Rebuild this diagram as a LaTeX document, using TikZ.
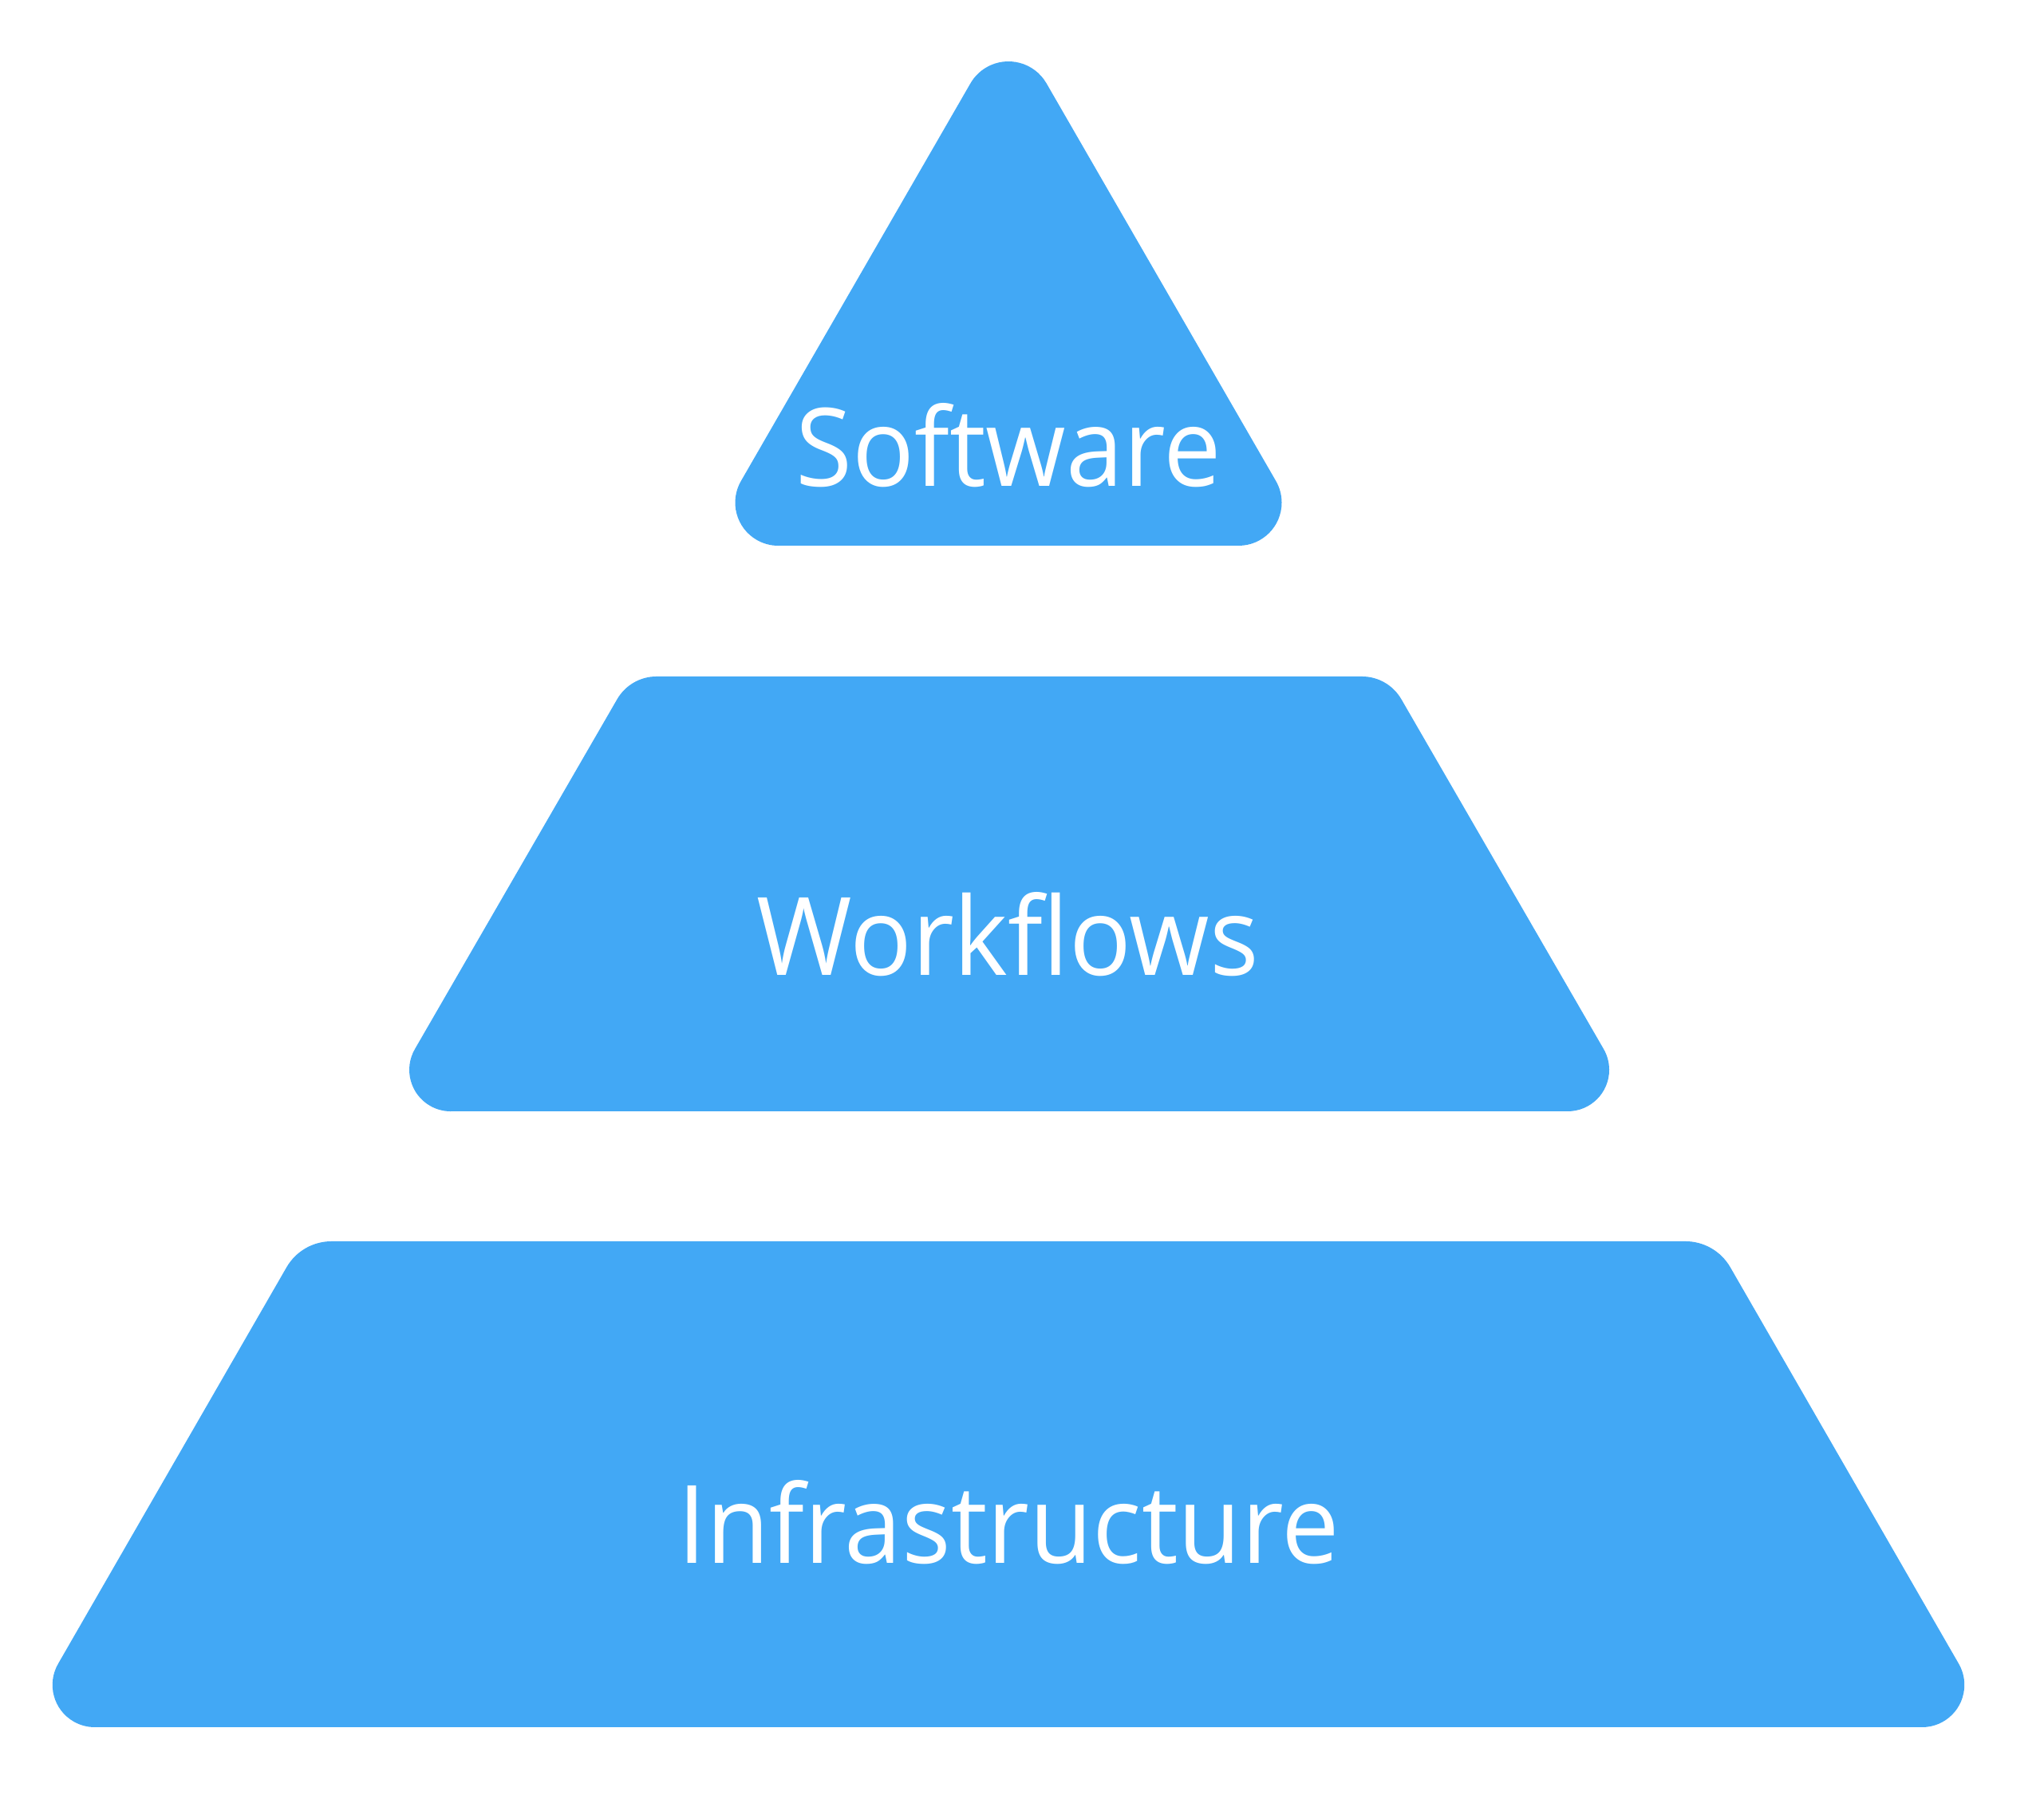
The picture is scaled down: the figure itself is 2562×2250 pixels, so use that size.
\documentclass[tikz,border=0pt]{standalone}
\usepackage{fontspec}
\newfontfamily\labfont[FakeStretch=0.95]{Open Sans}
\usetikzlibrary{calc}
\definecolor{tierblue}{RGB}{66,168,245}
\tikzset{
  tier/.style={fill=tierblue},
  tierlabel/.style={text=white, anchor=base, inner sep=0pt, font=\labfont\fontsize{136}{160}\selectfont}
}
\begin{document}
\begin{tikzpicture}[x=1pt,y=1pt]
\useasboundingbox (0,0) rectangle (2562,2250);
% triangle
\coordinate (tBL) at (882,1566);
\coordinate (tBR) at (1646,1566);
\coordinate (tA) at (1264,2228);
\def\trb{54pt}\def\ttb{93.5pt}
\def\tra{55pt}\def\tta{95.3pt}
\fill[tier] ($(tBL)+(0:\ttb)$) -- ($(tBR)+(180:\ttb)$)
  arc[start angle=-90,end angle=30,radius=\trb]
  -- ($(tA)+(300:\tta)$)
  arc[start angle=30,end angle=150,radius=\tra]
  -- ($(tBL)+(60:\ttb)$)
  arc[start angle=150,end angle=270,radius=\trb] -- cycle;
% middle trapezoid
\coordinate (mBL) at (475,857);
\coordinate (mBR) at (2055,857);
\coordinate (mTR) at (1740,1402);
\coordinate (mTL) at (790,1402);
\def\mrb{52pt}\def\mtb{90pt}
\def\mrt{57pt}\def\mtt{32.9pt}
\fill[tier] ($(mBL)+(0:\mtb)$) -- ($(mBR)+(180:\mtb)$)
  arc[start angle=-90,end angle=30,radius=\mrb]
  -- ($(mTR)+(300:\mtt)$)
  arc[start angle=30,end angle=90,radius=\mrt]
  -- ($(mTL)+(0:\mtt)$)
  arc[start angle=90,end angle=150,radius=\mrt]
  -- ($(mBL)+(60:\mtb)$)
  arc[start angle=150,end angle=270,radius=\mrb] -- cycle;
% bottom trapezoid
\coordinate (bBL) at (27,85);
\coordinate (bBR) at (2501,85);
\coordinate (bTR) at (2150,694);
\coordinate (bTL) at (378,694);
\def\brb{53pt}\def\btb{91.8pt}
\def\brt{65pt}\def\btt{37.5pt}
\fill[tier] ($(bBL)+(0:\btb)$) -- ($(bBR)+(180:\btb)$)
  arc[start angle=-90,end angle=30,radius=\brb]
  -- ($(bTR)+(300:\btt)$)
  arc[start angle=30,end angle=90,radius=\brt]
  -- ($(bTL)+(0:\btt)$)
  arc[start angle=90,end angle=150,radius=\brt]
  -- ($(bBL)+(60:\btb)$)
  arc[start angle=150,end angle=270,radius=\brb] -- cycle;
% labels
\node[tierlabel] (software) at (1264,1640) {Software};
\node[tierlabel] (workflows) at (1263,1027) {Workflows};
\node[tierlabel] (infra) at (1264,290) {Infrastructure};
\end{tikzpicture}
\end{document}
